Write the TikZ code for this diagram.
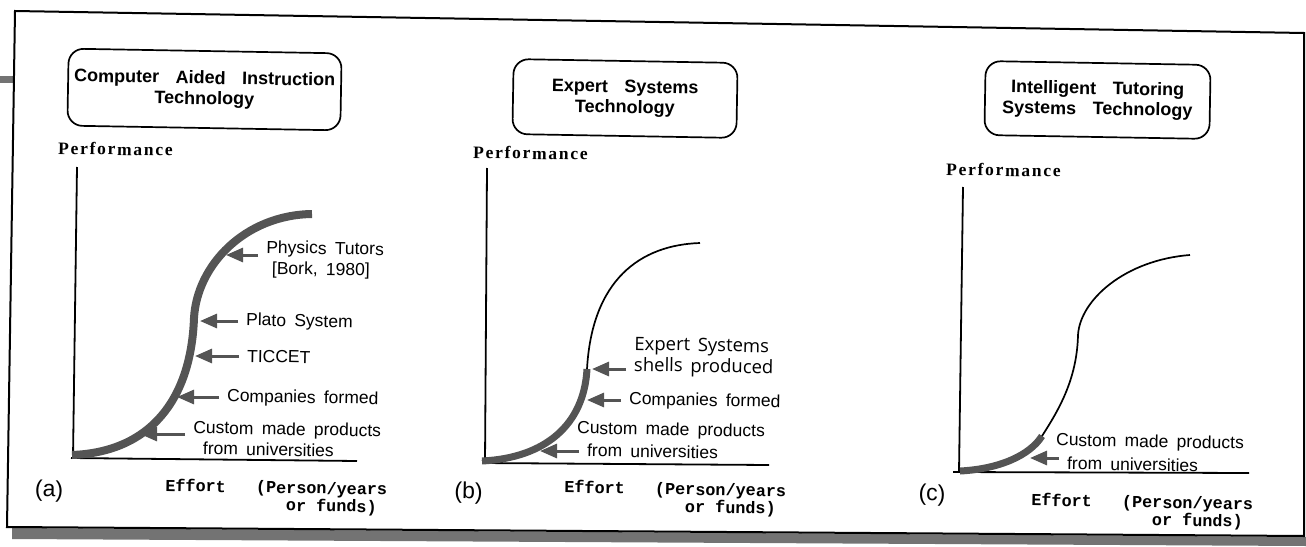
\documentclass[tikz,border=0pt]{standalone}
\usepackage{fontspec}
\setmainfont{Liberation Sans}
\newfontfamily\titlefont{Liberation Sans Bold}[WordSpace=3.3]
\newfontfamily\notefont{Liberation Sans}[WordSpace=1.7]
\newfontfamily\shellfont{Open Sans}[WordSpace=1.6]
\newfontfamily\axisfont{Liberation Serif Bold}[LetterSpace=10]
\newfontfamily\effortfont{Liberation Mono Bold}
\usetikzlibrary{arrows.meta}

\definecolor{curvegray}{gray}{0.33}
\definecolor{bandgray}{gray}{0.45}

\begin{document}
\begin{tikzpicture}[
  x=1pt, y=-1pt,
  every node/.style={rotate=-1},
  title/.style={draw, line width=1.7pt, rounded corners=15pt, align=center, inner sep=0pt,
    font=\titlefont\fontsize{18}{20.5}\selectfont},
  perf/.style={inner sep=0pt, font=\axisfont\fontsize{17.5}{19}\selectfont},
  effort/.style={anchor=west, align=left, inner sep=0pt,
    font=\effortfont\fontsize{16.8}{17.5}\selectfont},
  note/.style={anchor=west, align=left, inner xsep=8pt, inner ysep=0pt,
    font=\notefont\fontsize{17.5}{21}\selectfont},
  panel/.style={inner sep=0pt, font=\fontsize{23}{25}\selectfont},
  axis/.style={line width=1.8pt},
  thin curve/.style={line width=1.7pt},
  thick curve/.style={line width=8pt, curvegray},
  pointer/.style={line width=3pt, curvegray, -{Triangle[length=17pt,width=14pt]}}
]
\useasboundingbox (0,0) rectangle (1306,546);

% frame and shadow
\fill[bandgray] (0,76) rectangle (14,83);
\fill[bandgray] (12,528) -- (1306,537) -- (1306,546) -- (12,539) -- cycle;
\draw[line width=2pt] (15,11) -- (1304,33) -- (1304,536) -- (7,527) -- cycle;

% (a) computer aided instruction
\node[title, minimum width=273pt, minimum height=77pt] (cai) at (204.5,89.5) {Computer Aided Instruction\\Technology};
\node[perf] (perf-a) at (115.5,149) {Performance};
\draw[axis] (77,167) -- (73,458);
\draw[axis] (71,458) -- (357,461);
\draw[thick curve] (72,455) .. controls (150,452) and (191,400) .. (194,318)
  .. controls (197,265) and (245,215) .. (312,214);

\coordinate (physics-tip) at (226,255);
\coordinate (plato-tip) at (200,321);
\coordinate (ticcet-tip) at (195,356);
\coordinate (firms-a-tip) at (177,397);
\coordinate (custom-a-tip) at (140,434);
\node[note] (physics) at (258,259) {Physics Tutors\\\hspace{6pt}[Bork, 1980]};
\node[note] (plato) at (238,321) {Plato System};
\node[note] (ticcet) at (239,356) {TICCET};
\node[note] (firms-a) at (219,397) {Companies formed};
\node[note] (custom-a) at (185,437.5) {Custom made products\\\hspace{10pt}from universities};
\draw[pointer] (physics.west |- physics-tip) -- (physics-tip);
\draw[pointer] (plato.west |- plato-tip) -- (plato-tip);
\draw[pointer] (ticcet.west |- ticcet-tip) -- (ticcet-tip);
\draw[pointer] (firms-a.west |- firms-a-tip) -- (firms-a-tip);
\draw[pointer] (custom-a.west |- custom-a-tip) -- (custom-a-tip);

\node[panel] (tag-a) at (49,491) {(a)};
\node[effort] (effort-a) at (165,495.5) {Effort\ \ \ (Person/years\\\hphantom{Effort\ \ \ (Pe}or funds)};

% (b) expert systems
\node[title, minimum width=224pt, minimum height=75pt] (es) at (625,98.5) {Expert Systems\\Technology};
\node[perf] (perf-b) at (530.5,153) {Performance};
\draw[axis] (487,168) -- (485,463);
\draw[axis] (482,463) -- (769,465);
\draw[thin curve] (482,461) .. controls (545,458) and (584,425) .. (587,369)
  .. controls (592,280) and (640,245) .. (700,243);
\draw[thick curve, line width=7pt] (482,461) .. controls (545,458) and (584,425) .. (587,369);

\coordinate (shells-tip) at (592,369);
\coordinate (firms-b-tip) at (587,400);
\coordinate (custom-b-tip) at (540,451);
\node[note, font=\shellfont\fontsize{18.5}{21}\selectfont] (shells) at (626,356) {Expert Systems\\shells produced};
\node[note] (firms-b) at (621,400) {Companies formed};
\node[note] (custom-b) at (569,429) {Custom made products};
\node[note] (univ-b) at (579,450) {from universities};
\draw[pointer] (shells.west |- shells-tip) -- (shells-tip);
\draw[pointer] (firms-b.west |- firms-b-tip) -- (firms-b-tip);
\draw[pointer] (univ-b.west |- custom-b-tip) -- (custom-b-tip);

\node[panel] (tag-b) at (468.5,493) {(b)};
\node[effort] (effort-b) at (564,497) {Effort\ \ \ (Person/years\\\hphantom{Effort\ \ \ (Pe}or funds)};

% (c) intelligent tutoring systems
\node[title, minimum width=225pt, minimum height=74pt] (its) at (1097.5,100) {Intelligent Tutoring\\Systems Technology};
\node[perf] (perf-c) at (1003.5,170) {Performance};
\draw[axis] (963,187) -- (959,472);
\draw[axis] (953,472) -- (1249,473);
\draw[thin curve] (960,471) .. controls (1000,469) and (1030,455) .. (1042,436)
  .. controls (1058,411) and (1077,380) .. (1078,335)
  .. controls (1080,300) and (1125,260) .. (1190,255);
\draw[thick curve, line width=7pt] (960,471) .. controls (1000,469) and (1030,455) .. (1042,436);

\coordinate (custom-c-tip) at (1030,458);
\node[note] (custom-c) at (1048,441) {Custom made products};
\node[note] (univ-c) at (1059,463) {from universities};
\draw[pointer] (univ-c.west |- custom-c-tip) -- (custom-c-tip);

\node[panel] (tag-c) at (932,495) {(c)};
\node[effort] (effort-c) at (1031,510) {Effort\ \ \ (Person/years\\\hphantom{Effort\ \ \ (Pe}or funds)};
\end{tikzpicture}
\end{document}
